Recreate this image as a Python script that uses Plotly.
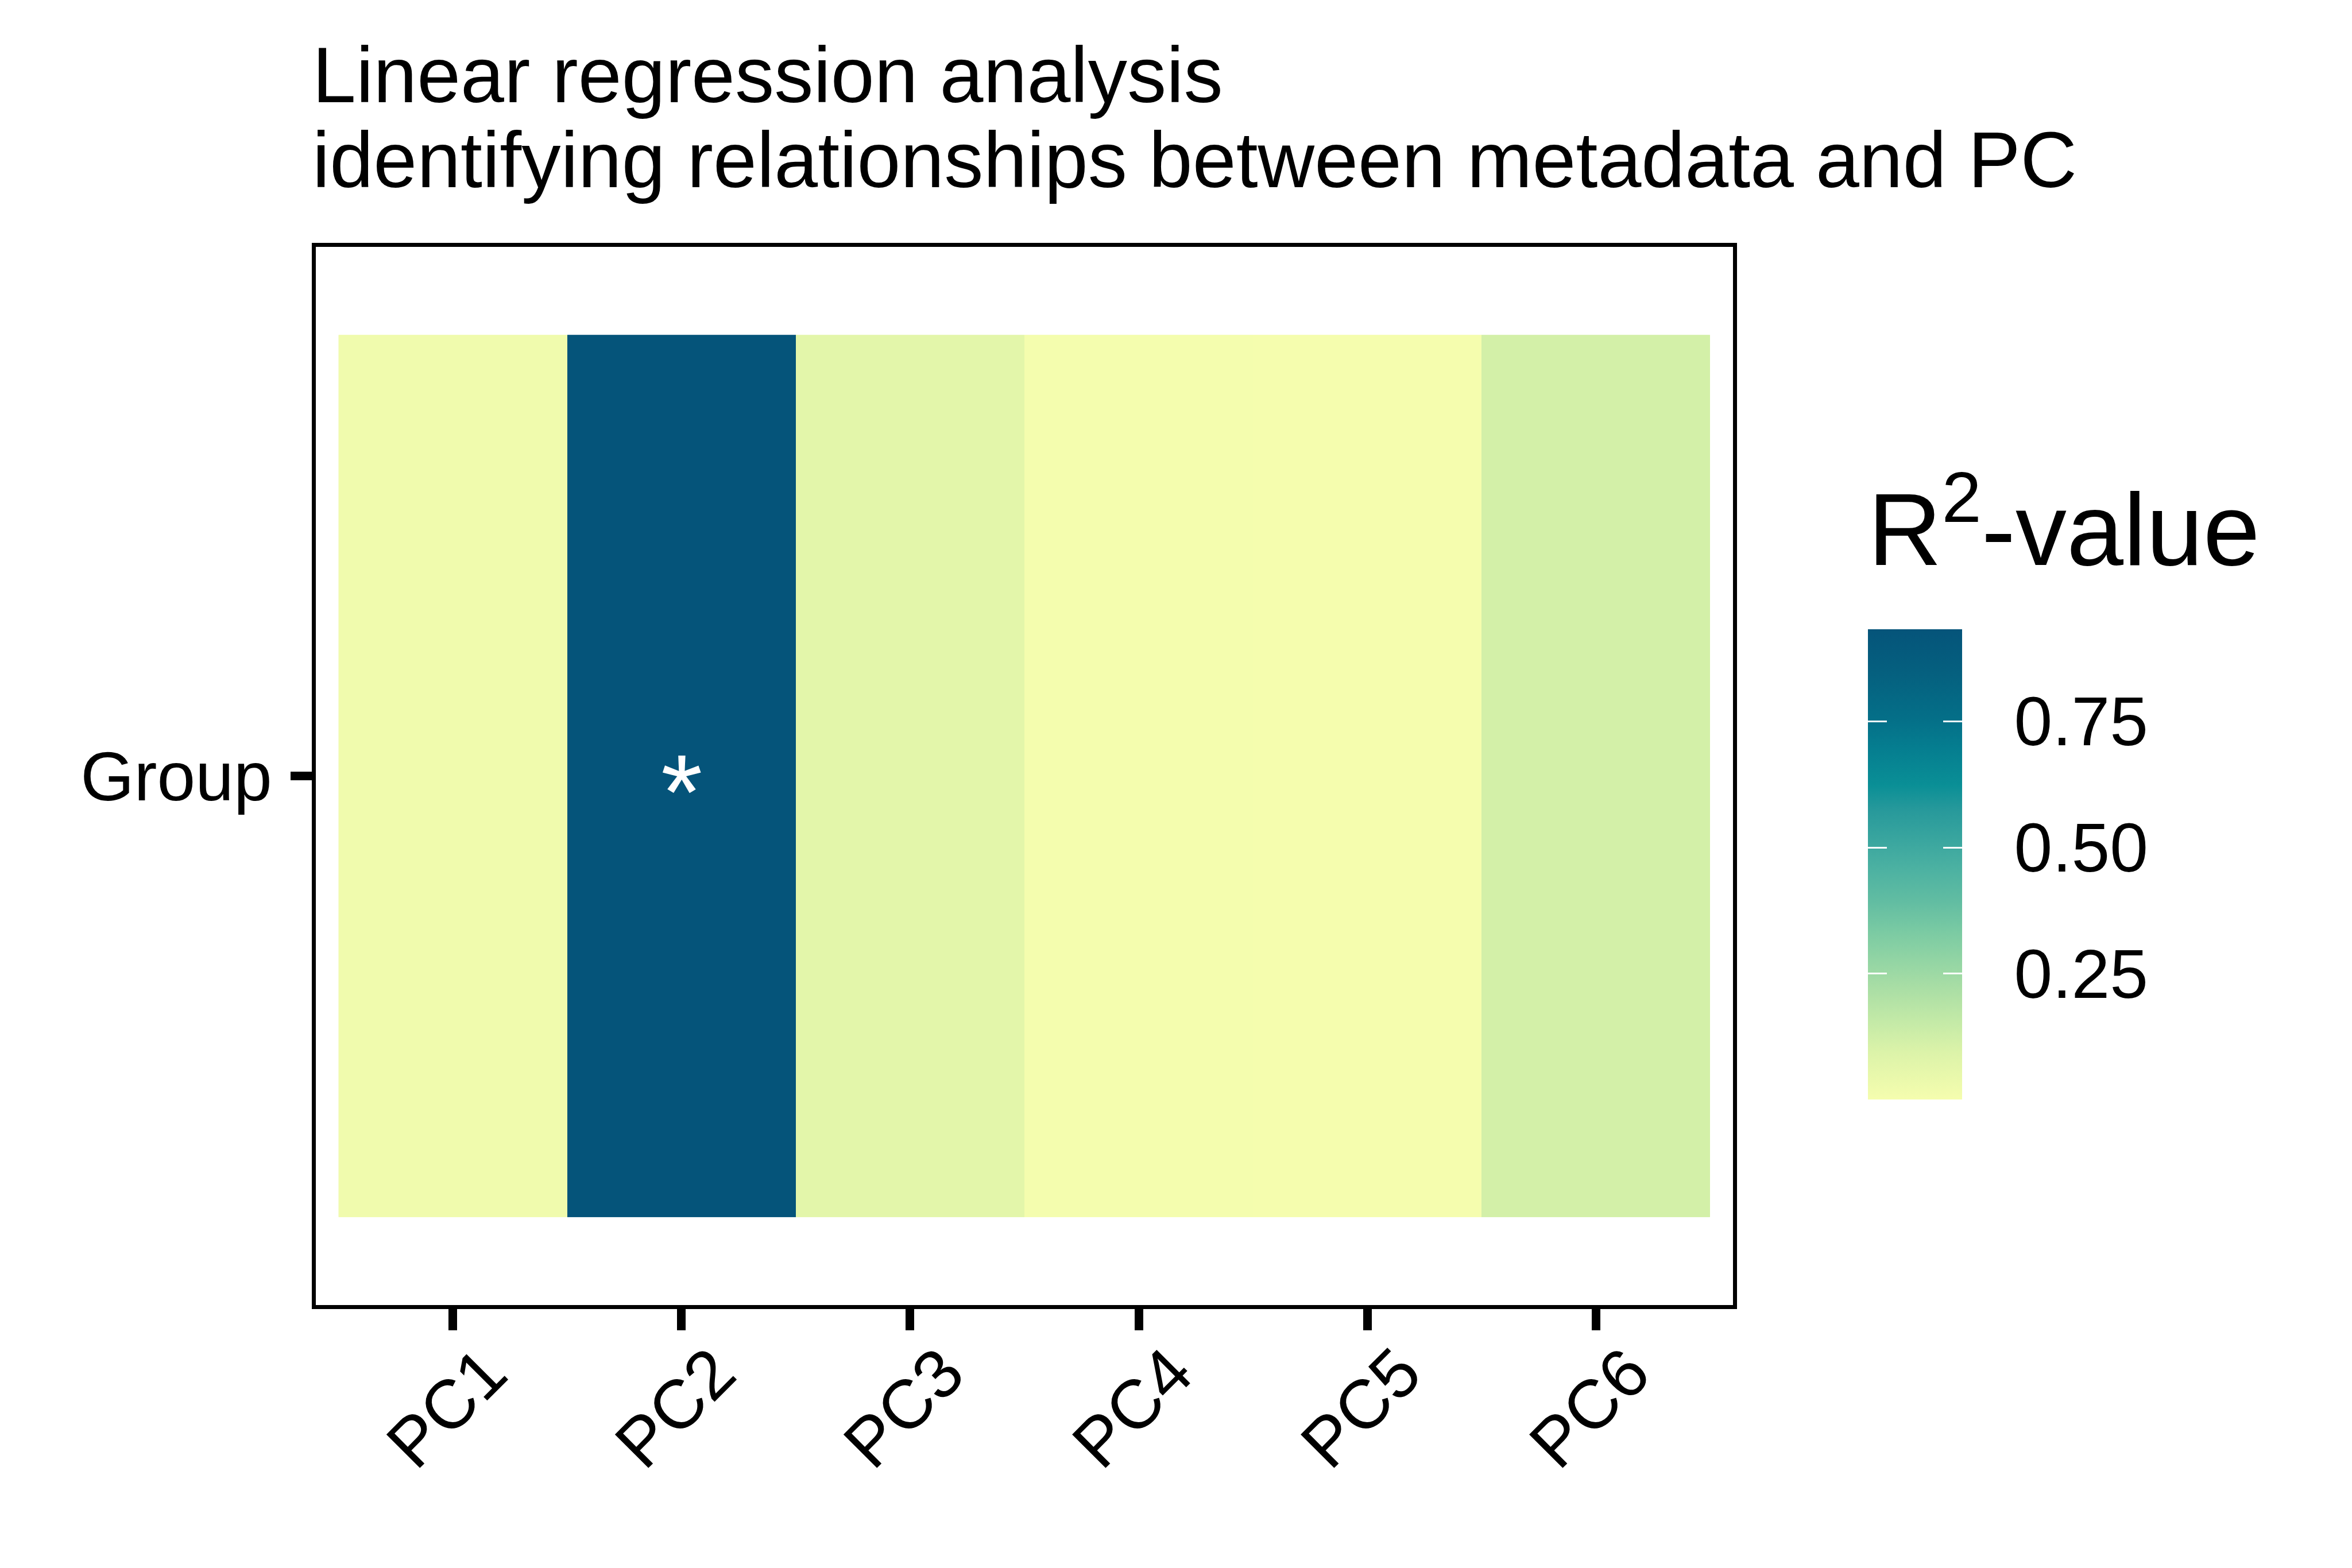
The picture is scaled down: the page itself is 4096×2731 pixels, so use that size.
import plotly.graph_objects as go

# ---------------- data ----------------
pcs = ["PC1", "PC2", "PC3", "PC4", "PC5", "PC6"]
metadata = ["Group"]
r2_values = [0.020, 0.932, 0.067, 0.003, 0.001, 0.116]
signif_marks = ["", "*", "", "", "", ""]
cbar_tickvals = [0.25, 0.50, 0.75]
cbar_ticktext = ["0.25", "0.50", "0.75"]
title_lines = ["Linear regression analysis",
               "identifying relationships between metadata and PC"]
legend_title = "R<sup>2</sup>-value"

# colour ramp (normalised position, colour)
ramp_pos = [0.0, 0.10, 0.165, 0.23, 0.294, 0.358, 0.42, 0.487, 0.55, 0.616, 0.668, 0.745, 0.81, 0.906, 1.0]
ramp_col = ["#F5FDAE", "#DCF3A9", "#C4EAA7", "#ACDFA5", "#93D5A4", "#7ACAA3", "#62BDA2",
            "#4DB2A2", "#3AA69F", "#27999B", "#0A8F96", "#057E90", "#046F88", "#05607F", "#05547A"]
colorscale = [[p, c] for p, c in zip(ramp_pos, ramp_col)]

# ---------------- geometry (px) ----------------
W, H = 4096, 2731
PL, PR, PT, PB = 550, 3018, 430, 2273          # plot-area edges
PW, PH = PR - PL, PB - PT
FONT = "Liberation Sans, Arial, Helvetica, sans-serif"

def px_x(x):
    return (x - PL) / PW

def px_y(y):
    return (PB - y) / PH

CB_L, CB_R, CB_T, CB_B = 3253, 3417, 1096, 1915
cb_common = dict(
    x=px_x(CB_L), xanchor="left", xpad=0, ypad=0,
    y=px_y((CB_T + CB_B) / 2), yanchor="middle",
    thicknessmode="pixels", thickness=CB_R - CB_L,
    lenmode="pixels", len=CB_B - CB_T,
    outlinewidth=0,
    tickvals=cbar_tickvals, ticktext=cbar_ticktext,
    tickfont=dict(family=FONT, size=120, color="black"),
)

z = [r2_values]
fig = go.Figure()
# main heatmap + labelled colourbar (ticks invisible, used only to place labels)
fig.add_trace(go.Heatmap(
    x=pcs, y=metadata, z=z, colorscale=colorscale, hoverinfo="skip",
    colorbar=dict(**cb_common, ticks="outside", ticklen=67, tickcolor="rgba(0,0,0,0)",
                  showticklabels=True),
))
# identical layer whose colourbar draws the white inner ticks on the right edge
fig.add_trace(go.Heatmap(
    x=pcs, y=metadata, z=z, colorscale=colorscale, hoverinfo="skip",
    colorbar=dict(**cb_common, ticks="inside", ticklen=33, tickwidth=3, tickcolor="white",
                  showticklabels=False),
))
# identical layer whose zero-width colourbar draws the white inner ticks on the left edge
cb_left = dict(cb_common)
cb_left["thickness"] = 0
fig.add_trace(go.Heatmap(
    x=pcs, y=metadata, z=z, colorscale=colorscale, hoverinfo="skip",
    colorbar=dict(**cb_left, ticks="outside", ticklen=33, tickwidth=3, tickcolor="white",
                  showticklabels=False),
))

annotations = []
# significance marks
for pc, mark in zip(pcs, signif_marks):
    if mark:
        annotations.append(dict(
            x=pc, y=metadata[0], xref="x", yref="y", text=mark, showarrow=False,
            font=dict(family=FONT, size=186, color="white"),
            xanchor="center", yanchor="middle", yshift=-28,
        ))
# title lines
annotations.append(dict(
    x=px_x(542), y=px_y(209), xref="paper", yref="paper", text=title_lines[0],
    showarrow=False, xanchor="left", yanchor="bottom",
    font=dict(family=FONT, size=136.5, color="black"),
))
annotations.append(dict(
    x=px_x(542), y=px_y(357), xref="paper", yref="paper", text=title_lines[1],
    showarrow=False, xanchor="left", yanchor="bottom",
    font=dict(family=FONT, size=136.5, color="black"),
))
# legend title
annotations.append(dict(
    x=px_x(CB_L - 2), y=px_y(1024), xref="paper", yref="paper", text=legend_title,
    showarrow=False, xanchor="left", yanchor="bottom",
    font=dict(family=FONT, size=178, color="black"),
))

axis_common = dict(
    showline=True, mirror=True, linecolor="black", linewidth=7.4,
    ticks="outside", ticklen=37, tickwidth=14.8, tickcolor="black",
    showgrid=False, zeroline=False,
    tickfont=dict(family=FONT, size=120, color="black"),
    fixedrange=True,
)

fig.update_layout(
    width=W, height=H,
    margin=dict(l=PL, r=W - PR, t=PT, b=H - PB, autoexpand=False),
    paper_bgcolor="white", plot_bgcolor="white",
    xaxis=dict(**axis_common, type="category", categoryorder="array", categoryarray=pcs,
               range=[-0.6, len(pcs) - 0.4], tickangle=-45,
               ticklabelshift=58, ticklabelstandoff=-45),
    yaxis=dict(**axis_common, type="category", range=[-0.6, 0.6], ticklabelstandoff=8),
    annotations=annotations,
    showlegend=False,
)

fig.write_html("out.html")
